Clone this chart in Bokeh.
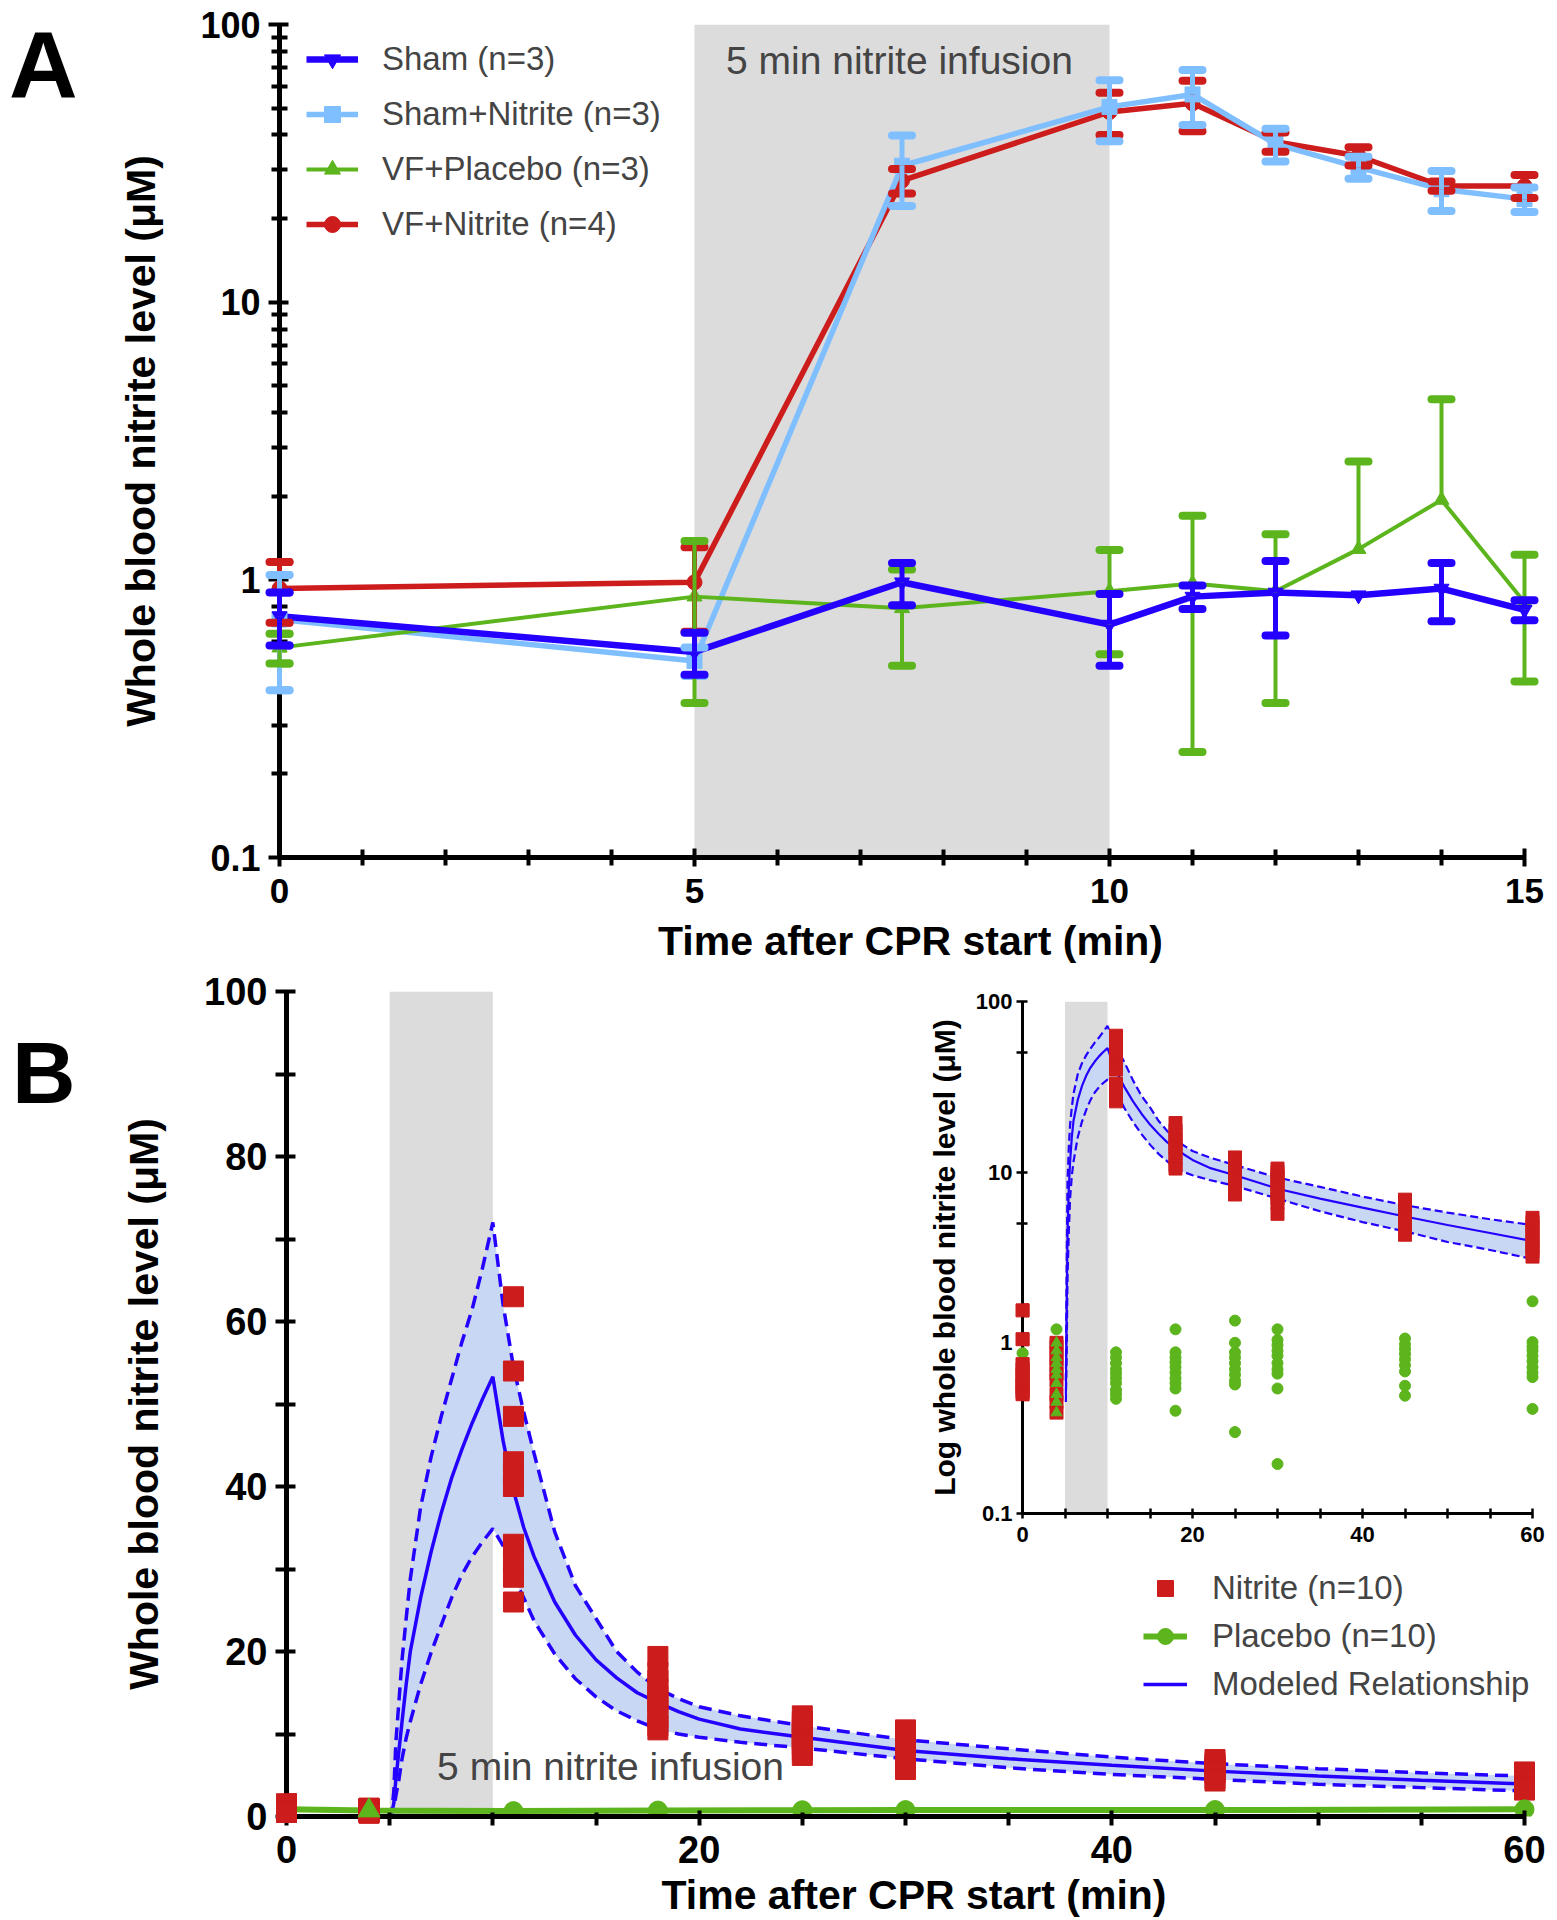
import numpy as np
from bokeh.plotting import figure
from bokeh.models import (ColumnDataSource, Whisker, TeeHead, BoxAnnotation, Label,
                          Legend, LegendItem, FixedTicker, CustomJSTickFormatter, Range1d, Div)
from bokeh.layouts import column, row
from bokeh.embed import file_html
from bokeh.resources import INLINE

FONT = "Liberation Sans"
BLUE = "#2400ff"
LBLUE = "#80bfff"
GREEN = "#5cb51c"
RED = "#cc1c1c"
GREY = "#dcdcdc"
BAND = "#c8d7f4"

# ---------------- Panel A data: mean and SEM (uM) ----------------
a_time = [0, 5, 7.5, 10, 11, 12, 13, 14, 15]
sham_mean = [0.74, 0.55, 0.98, 0.69, 0.87, 0.90, 0.88, 0.93, 0.78]
sham_sem = [0.16, 0.095, 0.17, 0.20, 0.085, 0.27, 0.0, 0.22, 0.065]
sham_nitrite_mean = [0.72, 0.51, 31.0, 50.5, 56.0, 37.1, 30.6, 25.5, 23.5]
sham_nitrite_sem = [0.32, 0.06, 8.8, 12.5, 12.5, 5.0, 2.8, 4.2, 2.4]
vf_placebo_mean = [0.57, 0.87, 0.79, 0.91, 0.97, 0.91, 1.29, 1.94, 0.83]
vf_placebo_sem = [0.07, 0.51, 0.30, 0.37, 0.73, 0.55, 1.38, 2.53, 0.40]
vf_nitrite_mean = [0.93, 0.98, 27.4, 48.4, 52.0, 37.8, 33.6, 26.2, 26.2]
vf_nitrite_sem = [0.23, 0.33, 2.8, 8.4, 10.7, 3.0, 2.55, 1.0, 2.5]

a_yticks = [0.1, 1, 10, 100]
a_yminor = [0.2, 0.3, 0.4, 0.5, 0.6, 0.7, 0.8, 0.9, 2, 3, 4, 5, 6, 7, 8, 9,
            20, 30, 40, 50, 60, 70, 80, 90]
a_xticks = [0, 5, 10, 15]
a_xminor = [1, 2, 3, 4, 6, 7, 8, 9, 11, 12, 13, 14]

# ---------------- Panel B data ----------------
nitrite_times = [0, 4, 11, 18, 25, 30, 45, 60]
nitrite_values = [
    [1.55, 1.05, 0.75, 0.70, 0.65, 0.62, 0.58, 0.55, 0.52, 0.50],
    [1.0, 0.95, 0.85, 0.80, 0.72, 0.66, 0.60, 0.50, 0.45, 0.39],
    [63.0, 54.0, 48.5, 43.0, 41.5, 40.0, 33.0, 31.0, 29.0, 26.0],
    [19.4, 17.5, 16.5, 15.5, 14.5, 14.0, 13.0, 12.0, 11.0, 10.5],
    [12.2, 11.5, 11.0, 10.5, 10.0, 9.6, 9.2, 8.7, 8.0, 7.4],
    [10.5, 10.0, 9.5, 9.0, 8.5, 8.0, 7.5, 7.0, 6.6, 5.7],
    [6.9, 6.5, 6.2, 6.0, 5.8, 5.6, 5.4, 5.2, 4.6, 4.3],
    [5.4, 5.1, 4.8, 4.5, 4.3, 4.0, 3.8, 3.6, 3.4, 3.2],
]
placebo_times = [0, 4, 11, 18, 25, 30, 45, 60]
placebo_circle_values = [
    [0.87],
    [1.2],
    [0.88, 0.82, 0.76, 0.70, 0.66, 0.62, 0.58, 0.53, 0.50, 0.47],
    [1.2, 0.88, 0.82, 0.77, 0.72, 0.67, 0.62, 0.58, 0.54, 0.40],
    [1.35, 1.0, 0.88, 0.82, 0.76, 0.70, 0.65, 0.60, 0.57, 0.30],
    [1.2, 1.04, 0.97, 0.90, 0.84, 0.76, 0.70, 0.66, 0.54, 0.195],
    [1.06, 0.98, 0.92, 0.86, 0.80, 0.74, 0.68, 0.56, 0.49],
    [1.75, 1.01, 0.95, 0.90, 0.84, 0.78, 0.72, 0.67, 0.63, 0.41],
]
placebo_t4_triangles = [1.0, 0.9, 0.82, 0.76, 0.70, 0.65, 0.58, 0.50, 0.45, 0.39]

model_t = [0, 5, 5.1, 5.2, 5.3, 5.45, 5.6, 5.8, 6.0, 6.5, 7, 7.5, 8, 8.5, 9, 9.5, 10,
           10.5, 11, 11.5, 12, 13, 14, 15, 16, 17, 18, 19, 20, 22, 25, 30, 35, 40,
           45, 50, 55, 60]
model_mean = [0, 0, 0.5, 1.6, 4.5, 8, 11.5, 16, 20, 26.5, 32, 36.8, 41, 44.5, 47.7,
              50.6, 53.3, 45.5, 39.5, 35, 31.5, 26, 22, 19, 16.8, 15, 13.8, 12.7,
              11.8, 10.6, 9.6, 8.0, 7.0, 6.2, 5.5, 4.9, 4.4, 3.95]
model_upper = [0, 0, 0.6, 3, 9, 14, 19, 24, 28.8, 37.5, 43.5, 48.5, 53, 57.5, 61.5,
               66.5, 72, 62, 54.5, 49, 44, 34.5, 28, 24, 20, 17.5, 15.5, 14.3, 13.3,
               12.2, 11.0, 9.3, 8.2, 7.2, 6.4, 5.8, 5.3, 4.9]
model_lower = [0, 0, 0.45, 0.9, 2.5, 4.5, 7, 9.5, 11.5, 16, 19.8, 23.2, 26.5, 29.3,
               31.5, 33.3, 34.9, 32.8, 29, 26.5, 23.7, 19.7, 16.7, 14.5, 12.8, 11.6,
               10.6, 10.0, 9.6, 9.0, 8.3, 7.0, 5.9, 5.1, 4.5, 3.9, 3.5, 3.1]

b_yticks = [0, 20, 40, 60, 80, 100]
b_yminor = [10, 30, 50, 70, 90]
b_xticks = [0, 20, 40, 60]
b_xminor = [5, 10, 15, 25, 30, 35, 45, 50, 55]
i_yticks = [0.1, 1, 10, 100]
i_yminor = [5, 50]
i_xticks = [0, 20, 40, 60]
i_xminor = [5, 10, 15, 25, 30, 35, 45, 50, 55]

LOGFMT = CustomJSTickFormatter(code="return tick < 1 ? tick.toFixed(1) : tick.toFixed(0);")


def style_axis(ax, lw, tw, tin, tout, mtin, mtout, label_px, standoff, title_px, title_standoff):
    ax.axis_line_width = lw
    ax.axis_line_color = "black"
    ax.major_tick_line_width = tw
    ax.minor_tick_line_width = tw
    ax.major_tick_line_color = "black"
    ax.minor_tick_line_color = "black"
    ax.major_tick_in = tin
    ax.major_tick_out = tout
    ax.minor_tick_in = mtin
    ax.minor_tick_out = mtout
    ax.major_label_text_font = FONT
    ax.major_label_text_font_style = "bold"
    ax.major_label_text_font_size = f"{label_px}px"
    ax.major_label_text_color = "black"
    ax.major_label_standoff = standoff
    ax.axis_label_text_font = FONT
    ax.axis_label_text_font_style = "bold"
    ax.axis_label_text_font_size = f"{title_px}px"
    ax.axis_label_text_color = "black"
    ax.axis_label_standoff = title_standoff


def overlay(width, height, xr, yr, left, right, top, bottom, log_y=False):
    """Transparent, axis-less figure laid exactly over a panel so that marks at the
    panel's edges are not cut by its frame."""
    f = figure(width=width, height=height, x_range=xr, y_range=yr,
               y_axis_type="log" if log_y else "linear",
               x_axis_location=None, y_axis_location=None,
               output_backend="svg", toolbar_location=None,
               min_border_left=left, min_border_right=right,
               min_border_top=top, min_border_bottom=bottom,
               background_fill_alpha=0, border_fill_alpha=0)
    f.outline_line_color = None
    f.grid.visible = False
    return f


def add_whiskers(p, t, m, s, col, elw):
    up = [(a, v, v + e) for a, v, e in zip(t, m, s) if e > 0]
    dn = [(a, v - e, v) for a, v, e in zip(t, m, s) if e > 0 and v - e > 0]
    for rows, head_up in ((up, True), (dn, False)):
        if not rows:
            continue
        wsrc = ColumnDataSource(dict(base=[r[0] for r in rows], lower=[r[1] for r in rows],
                                     upper=[r[2] for r in rows]))
        head = TeeHead(size=20, line_color=col, line_width=8, line_cap="round")
        p.add_layout(Whisker(source=wsrc, base="base", lower="lower", upper="upper",
                             dimension="height", line_color=col, line_width=elw,
                             level="annotation",
                             upper_head=head if head_up else None,
                             lower_head=None if head_up else head))


W = 1557
PAD = 26

# ======================= Panel A =======================
A_H = 980
A_X0, A_X15 = 279, 1524
A_FR = 1541
A_FT, A_FB = 24, 857
ppmA = (A_X15 - A_X0) / 15
pA = figure(width=W, height=A_H,
            x_range=Range1d(0, 15 + (A_FR - A_X15) / ppmA),
            y_range=Range1d(0.1, 100), y_axis_type="log",
            output_backend="svg", toolbar_location=None,
            min_border_left=A_X0, min_border_right=W - A_FR,
            min_border_top=A_FT, min_border_bottom=A_H - A_FB)
pA.outline_line_color = None
pA.grid.visible = False
pA.add_layout(BoxAnnotation(left=5, right=10, fill_color=GREY, fill_alpha=1,
                            line_color=None, level="underlay"))

ovA = overlay(W, A_H, Range1d(-PAD / ppmA, 15 + (A_FR - A_X15) / ppmA), Range1d(0.1, 100),
              A_X0 - PAD, W - A_FR, A_FT, A_H - A_FB, log_y=True)

series = [
    ("VF+Nitrite (n=4)", vf_nitrite_mean, vf_nitrite_sem, RED, "circle", 5.5, 5),
    ("Sham+Nitrite (n=3)", sham_nitrite_mean, sham_nitrite_sem, LBLUE, "square", 5.5, 5),
    ("VF+Placebo (n=3)", vf_placebo_mean, vf_placebo_sem, GREEN, "triangle", 4, 4),
    ("Sham (n=3)", sham_mean, sham_sem, BLUE, "inverted_triangle", 6.5, 5),
]
legend_items = {}
for name, m, s, col, mk, lw, elw in series:
    src = ColumnDataSource(dict(x=a_time, y=m))
    ln = pA.line("x", "y", source=src, line_color=col, line_width=lw, line_join="round")
    sc = pA.scatter("x", "y", source=src, marker=mk, size=15, fill_color=col, line_color=col)
    add_whiskers(pA, a_time, m, s, col, elw)
    legend_items[name] = LegendItem(label=name, renderers=[ln, sc])
    # marks at the y axis (t = 0) redrawn uncut on the overlay
    edge = [i for i, t in enumerate(a_time) if t == 0]
    et = [a_time[i] for i in edge]
    em = [m[i] for i in edge]
    es = [s[i] for i in edge]
    ovA.scatter(et, em, marker=mk, size=15, fill_color=col, line_color=col)
    add_whiskers(ovA, et, em, es, col, elw)

legA = Legend(items=[legend_items[n] for n in
                     ["Sham (n=3)", "Sham+Nitrite (n=3)", "VF+Placebo (n=3)", "VF+Nitrite (n=4)"]],
              location=(27, 613), glyph_width=52, glyph_height=40, label_height=40,
              label_standoff=24, spacing=15, padding=0, margin=0,
              border_line_color=None, background_fill_alpha=0,
              label_text_font=FONT, label_text_font_size="33px")
pA.add_layout(legA)

pA.add_layout(Label(x=5.38, y=74, text="5 min nitrite infusion", text_font=FONT,
                    text_font_size="39px", text_baseline="middle", text_align="left"))

pA.xaxis.ticker = FixedTicker(ticks=a_xticks, minor_ticks=a_xminor)
pA.yaxis.ticker = FixedTicker(ticks=a_yticks, minor_ticks=a_yminor)
pA.yaxis.formatter = LOGFMT
pA.xaxis.bounds = (0, 15)
pA.xaxis.axis_label = "Time after CPR start (min)"
pA.yaxis.axis_label = "Whole blood nitrite level (μM)"
style_axis(pA.xaxis[0], 5, 4, 9, 9, 8, 8, 35, 12, 41, 12)
style_axis(pA.yaxis[0], 5, 4, 9, 11, 8, 8, 36, 8, 41, 33)

# ======================= Panel B =======================
B_TOP = 966
B_H = 1920 - B_TOP
B_X0, B_X60 = 286, 1524
B_FR = 1541
B_Y100, B_Y0 = 991 - B_TOP, 1816 - B_TOP
ppmB = (B_X60 - B_X0) / 60
ppuB = (B_Y0 - B_Y100) / 100
pB = figure(width=W, height=B_H,
            x_range=Range1d(0, 60 + (B_FR - B_X60) / ppmB),
            y_range=Range1d(0, 100),
            output_backend="svg", toolbar_location=None,
            min_border_left=B_X0, min_border_right=W - B_FR,
            min_border_top=B_Y100, min_border_bottom=B_H - B_Y0,
            border_fill_alpha=0)
pB.outline_line_color = None
pB.grid.visible = False
pB.add_layout(BoxAnnotation(left=5, right=10, bottom=0, top=100, fill_color=GREY,
                            fill_alpha=1, line_color=None, level="underlay"))

msrc = ColumnDataSource(dict(t=model_t, m=model_mean, lo=model_lower, hi=model_upper))
pB.varea(x="t", y1="lo", y2="hi", source=msrc, fill_color=BAND)
pB.line("t", "hi", source=msrc, line_color=BLUE, line_width=3.5, line_dash="13 7")
pB.line("t", "lo", source=msrc, line_color=BLUE, line_width=3.5, line_dash="13 7")
model_ln = pB.line("t", "m", source=msrc, line_color=BLUE, line_width=3.5)

placebo_all = [list(v) for v in placebo_circle_values]
placebo_all[1] = placebo_all[1] + placebo_t4_triangles
placebo_mean = [float(np.mean(v)) for v in placebo_all]
psrc = ColumnDataSource(dict(t=placebo_times, m=placebo_mean))
plac_ln = pB.line("t", "m", source=psrc, line_color=GREEN, line_width=6)

nit_x = [t for t, vals in zip(nitrite_times, nitrite_values) for _ in vals]
nit_y = [v for vals in nitrite_values for v in vals]
nsrc = ColumnDataSource(dict(t=nit_x, v=nit_y))
nit_sc = pB.scatter("t", "v", source=nsrc, marker="square", size=20,
                    fill_color=RED, line_color=RED)

pm_src = ColumnDataSource(dict(t=[t for t in placebo_times if t not in (0, 4)],
                               m=[m for t, m in zip(placebo_times, placebo_mean) if t not in (0, 4)]))
plac_sc = pB.scatter("t", "m", source=pm_src, marker="circle", size=19,
                     fill_color=GREEN, line_color=GREEN)

# uncut marks near the axes of panel B
ovB = overlay(W, B_H, Range1d(-PAD / ppmB, 60 + (B_FR - B_X60) / ppmB),
              Range1d(-PAD / ppuB, 100), B_X0 - PAD, W - B_FR, B_Y100, B_H - B_Y0 - PAD)
low_idx = [i for i, t in enumerate(nit_x) if t in (0, 4)]
ovB.scatter([nit_x[i] for i in low_idx], [nit_y[i] for i in low_idx], marker="square",
            size=20, fill_color=RED, line_color=RED)
ovB.scatter([4], [placebo_mean[1]], marker="triangle", size=22,
            fill_color=GREEN, line_color=GREEN)

legB = Legend(items=[LegendItem(label="Nitrite (n=10)", renderers=[nit_sc]),
                     LegendItem(label="Placebo (n=10)", renderers=[plac_ln, plac_sc]),
                     LegendItem(label="Modeled Relationship", renderers=[model_ln])],
              location=(857, 112), glyph_width=44, glyph_height=40, label_height=40,
              label_standoff=25, spacing=8, padding=0, margin=0,
              border_line_color=None, background_fill_alpha=0,
              label_text_font=FONT, label_text_font_size="33px")
pB.add_layout(legB)

pB.add_layout(Label(x=7.3, y=6.06, text="5 min nitrite infusion", text_font=FONT,
                    text_font_size="39px", text_baseline="middle", text_align="left"))

pB.xaxis.ticker = FixedTicker(ticks=b_xticks, minor_ticks=b_xminor)
pB.yaxis.ticker = FixedTicker(ticks=b_yticks, minor_ticks=b_yminor)
pB.xaxis.bounds = (0, 60)
pB.yaxis.bounds = (0, 100)
pB.xaxis.axis_label = "Time after CPR start (min)"
pB.yaxis.axis_label = "Whole blood nitrite level (μM)"
style_axis(pB.xaxis[0], 5, 4, 6, 9, 4, 9, 38, 10, 41, 6)
style_axis(pB.yaxis[0], 5, 4, 9, 11, 9, 11, 38, 8, 41, 34)

# ======================= Inset =======================
I_LEFT, I_TOP = 908, 983
I_W, I_H = 649, 570
I_X0, I_X60 = 114, 624
I_FR = 633
I_FT, I_FB = 18, 530
ppmI = (I_X60 - I_X0) / 60
pI = figure(width=I_W, height=I_H,
            x_range=Range1d(0, 60 + (I_FR - I_X60) / ppmI),
            y_range=Range1d(0.1, 100), y_axis_type="log",
            output_backend="svg", toolbar_location=None,
            min_border_left=I_X0, min_border_right=I_W - I_FR,
            min_border_top=I_FT, min_border_bottom=I_H - I_FB,
            background_fill_alpha=0, border_fill_alpha=0)
pI.outline_line_color = None
pI.grid.visible = False
pI.add_layout(BoxAnnotation(left=5, right=10, fill_color=GREY, fill_alpha=1,
                            line_color=None, level="underlay"))
pos = [i for i, v in enumerate(model_mean) if v > 0]
isrc = ColumnDataSource(dict(t=[model_t[i] for i in pos], m=[model_mean[i] for i in pos],
                             lo=[model_lower[i] for i in pos], hi=[model_upper[i] for i in pos]))
pI.varea(x="t", y1="lo", y2="hi", source=isrc, fill_color=BAND)
pI.line("t", "hi", source=isrc, line_color=BLUE, line_width=2.2, line_dash="8 4")
pI.line("t", "lo", source=isrc, line_color=BLUE, line_width=2.2, line_dash="8 4")
pI.line("t", "m", source=isrc, line_color=BLUE, line_width=2.2)

pc_x = [t for t, vals in zip(placebo_times, placebo_circle_values) for _ in vals]
pc_y = [v for vals in placebo_circle_values for v in vals]
pI.scatter(pc_x, pc_y, marker="circle", size=11, fill_color=GREEN, line_color=GREEN)
pI.scatter(nit_x, nit_y, marker="square", size=13, fill_color=RED, line_color=RED)
pI.scatter([4] * len(placebo_t4_triangles), placebo_t4_triangles, marker="triangle", size=11,
           fill_color=GREEN, line_color=GREEN)

ovI = overlay(I_W, I_H, Range1d(-PAD / ppmI, 60 + (I_FR - I_X60) / ppmI), Range1d(0.1, 100),
              I_X0 - PAD, I_W - I_FR, I_FT, I_H - I_FB, log_y=True)
c0 = [i for i, t in enumerate(pc_x) if t == 0]
ovI.scatter([pc_x[i] for i in c0], [pc_y[i] for i in c0], marker="circle", size=11,
            fill_color=GREEN, line_color=GREEN)
n0 = [i for i, t in enumerate(nit_x) if t == 0]
ovI.scatter([nit_x[i] for i in n0], [nit_y[i] for i in n0], marker="square", size=13,
            fill_color=RED, line_color=RED)

pI.xaxis.ticker = FixedTicker(ticks=i_xticks, minor_ticks=i_xminor)
pI.yaxis.ticker = FixedTicker(ticks=i_yticks, minor_ticks=i_yminor)
pI.yaxis.formatter = LOGFMT
pI.xaxis.bounds = (0, 60)
pI.yaxis.axis_label = "Log whole blood nitrite level (μM)"
style_axis(pI.xaxis[0], 3, 2.5, 5, 5, 5, 5, 22, 8, 24, 6)
style_axis(pI.yaxis[0], 3, 2.5, 5, 6, 5, 6, 22, 4, 30, 12)

# ======================= Panel letters =======================
LET_H = 110
A_LET_TOP, A_LET_LEFT = 18, 9
B_LET_TOP, B_LET_LEFT = 1029, 12
divA = Div(text="<div style=\"font-family:'Liberation Sans';font-weight:bold;font-size:95px;"
                "line-height:95px;margin:0;padding:0;color:black;\">A</div>",
           width=100, height=LET_H, margin=0)
divB = Div(text="<div style=\"font-family:'Liberation Sans';font-weight:bold;font-size:88px;"
                "line-height:88px;margin:0;padding:0;color:black;\">B</div>",
           width=100, height=LET_H, margin=0)

# ---- stack everything; negative top margins place each block at its page position ----
blocks = [  # (content, top, left, height)
    (pA, 0, 0, A_H),
    (pB, B_TOP, 0, B_H),
    (pI, I_TOP, I_LEFT, I_H),
    (ovA, 0, 0, A_H),
    (ovB, B_TOP, 0, B_H),
    (ovI, I_TOP, I_LEFT, I_H),
    (divA, A_LET_TOP, A_LET_LEFT, LET_H),
    (divB, B_LET_TOP, B_LET_LEFT, LET_H),
]
children = []
cursor = 0
for content, top, left, h in blocks:
    children.append(row(content, margin=(top - cursor, 0, 0, left)))
    cursor = top + h
layout = column(*children, spacing=0)
open("out.html", "w").write(file_html(layout, INLINE))
